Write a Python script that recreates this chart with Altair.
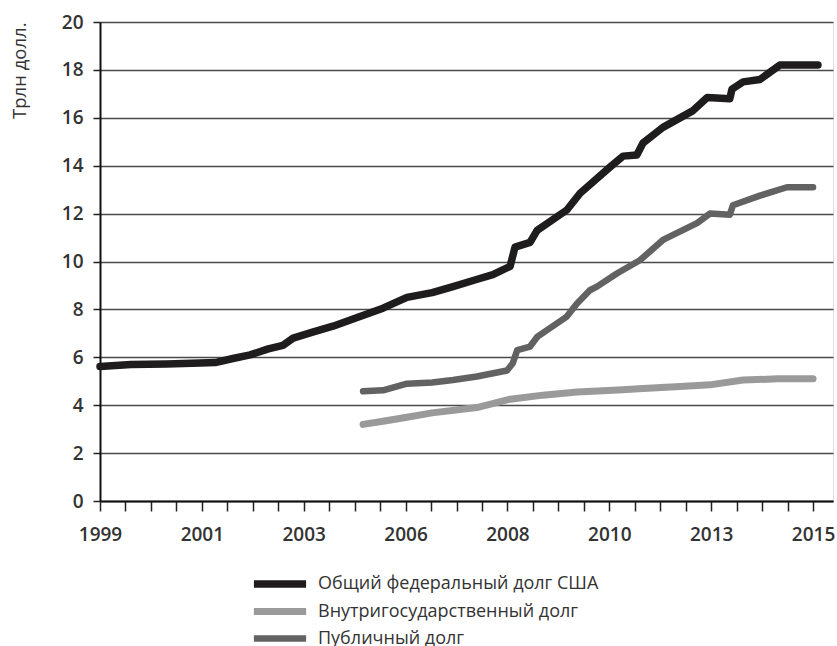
import altair as alt
import pandas as pd

series_names = ["Общий федеральный долг США", "Внутригосударственный долг", "Публичный долг"]
series_colors = ["#1e1c1d", "#9a9a9a", "#626262"]

total_years = [1999.30, 2000.00, 2000.80, 2001.56, 2001.90, 2002.30, 2002.69, 2003.10, 2003.43, 2003.66,
               2004.10, 2004.56, 2005.17, 2005.69, 2006.23, 2006.80, 2007.27, 2007.80, 2008.17, 2008.56,
               2008.67, 2009.01, 2009.17, 2009.84, 2010.14, 2010.82, 2011.11, 2011.42, 2011.56, 2012.01,
               2012.69, 2013.01, 2013.52, 2013.57, 2013.82, 2014.20, 2014.65, 2015.51]
total_values = [5.62, 5.70, 5.72, 5.76, 5.78, 5.95, 6.10, 6.35, 6.50, 6.80,
                7.05, 7.30, 7.70, 8.05, 8.50, 8.70, 8.95, 9.25, 9.45, 9.80,
                10.60, 10.80, 11.30, 12.15, 12.85, 13.95, 14.40, 14.45, 14.95, 15.60,
                16.30, 16.85, 16.80, 17.20, 17.50, 17.60, 18.20, 18.20]

intra_years = [2005.24, 2005.69, 2006.23, 2006.80, 2007.81, 2008.56, 2009.30, 2010.07, 2011.00,
               2011.56, 2012.40, 2013.07, 2013.82, 2014.60, 2015.40]
intra_values = [3.20, 3.33, 3.50, 3.68, 3.90, 4.25, 4.42, 4.55, 4.63,
                4.70, 4.78, 4.85, 5.05, 5.10, 5.10]

public_years = [2005.24, 2005.69, 2006.23, 2006.80, 2007.27, 2007.81, 2008.49, 2008.62, 2008.72,
                2009.01, 2009.17, 2009.84, 2010.07, 2010.36, 2010.52, 2010.97, 2011.49, 2012.01,
                2012.78, 2013.07, 2013.52, 2013.59, 2014.20, 2014.81, 2015.40]
public_values = [4.58, 4.62, 4.90, 4.95, 5.05, 5.20, 5.45, 5.75, 6.30,
                 6.45, 6.85, 7.70, 8.25, 8.80, 8.95, 9.50, 10.05, 10.90,
                 11.60, 12.00, 11.95, 12.35, 12.75, 13.10, 13.10]

x_tick_labels = ["1999", "2001", "2003", "2006", "2008", "2010", "2013", "2015"]
y_ticks = [0, 2, 4, 6, 8, 10, 12, 14, 16, 18, 20]

rows = []
for name, xs, ys in [(series_names[0], total_years, total_values),
                     (series_names[1], intra_years, intra_values),
                     (series_names[2], public_years, public_values)]:
    for x, y in zip(xs, ys):
        rows.append({"series": name, "year": x, "value": y})
df = pd.DataFrame(rows)

x_start = 1999.3
x_step = 0.575
x_tick_values = [round(x_start + i * x_step, 4) for i in range(29)]
label_array = "[" + ",".join("'" + s + "'" for s in x_tick_labels) + "]"
label_expr = (f"(round((datum.value - {x_start}) / {x_step}) % 4 == 0) ? "
              f"{label_array}[round((datum.value - {x_start}) / {x_step}) / 4] : ''")

font = "Open Sans"
text_color = "#333333"

chart = alt.Chart(df).mark_line(strokeCap="round", strokeJoin="round").encode(
    x=alt.X("year:Q",
            scale=alt.Scale(domain=[1999.3, 2015.85], nice=False, zero=False),
            axis=alt.Axis(values=x_tick_values, labelExpr=label_expr, title=None, grid=False,
                          domainColor="#111111", domainWidth=2, tickColor="#222222", tickWidth=1.5,
                          tickSize=10, labelPadding=14, labelFont=font, labelFontSize=19,
                          labelFontWeight=600, labelColor=text_color, labelOverlap=False,
                          labelFlush=False)),
    y=alt.Y("value:Q",
            scale=alt.Scale(domain=[0, 20], nice=False),
            axis=alt.Axis(values=y_ticks, title="Трлн долл.", titleFont=font, titleFontSize=18.5,
                          titleFontWeight="normal", titleColor=text_color, titleAnchor="end",
                          titlePadding=32, grid=True, gridColor="#4a4a4a", gridWidth=1.4,
                          domainColor="#111111", domainWidth=2, tickColor="#222222", tickWidth=1.5,
                          tickSize=7, labelPadding=10, labelFont=font, labelFontSize=19,
                          labelFontWeight=600, labelColor=text_color)),
    color=alt.Color("series:N",
                    scale=alt.Scale(domain=series_names, range=series_colors),
                    sort=series_names,
                    legend=alt.Legend(title=None, orient="none", legendX=167, legendY=549,
                                      symbolType="M-2.9,0H2.9", symbolSize=324, symbolStrokeWidth=5,
                                      symbolFillColor="transparent",
                                      labelFont=font, labelFontSize=18, labelColor=text_color,
                                      labelOffset=25, rowPadding=-2, padding=0, labelLimit=400)),
    strokeWidth=alt.StrokeWidth("series:N",
                                scale=alt.Scale(domain=series_names, range=[7.5, 6.5, 6.5]),
                                legend=None),
).properties(
    width=733, height=479,
    padding={"left": 100, "top": 22, "right": 4, "bottom": 145},
    autosize="none",
).configure_view(
    stroke="#4a4a4a", strokeWidth=1.5
).configure(background="white")

chart.save("out.html", embed_options={"renderer": "svg", "actions": False})
